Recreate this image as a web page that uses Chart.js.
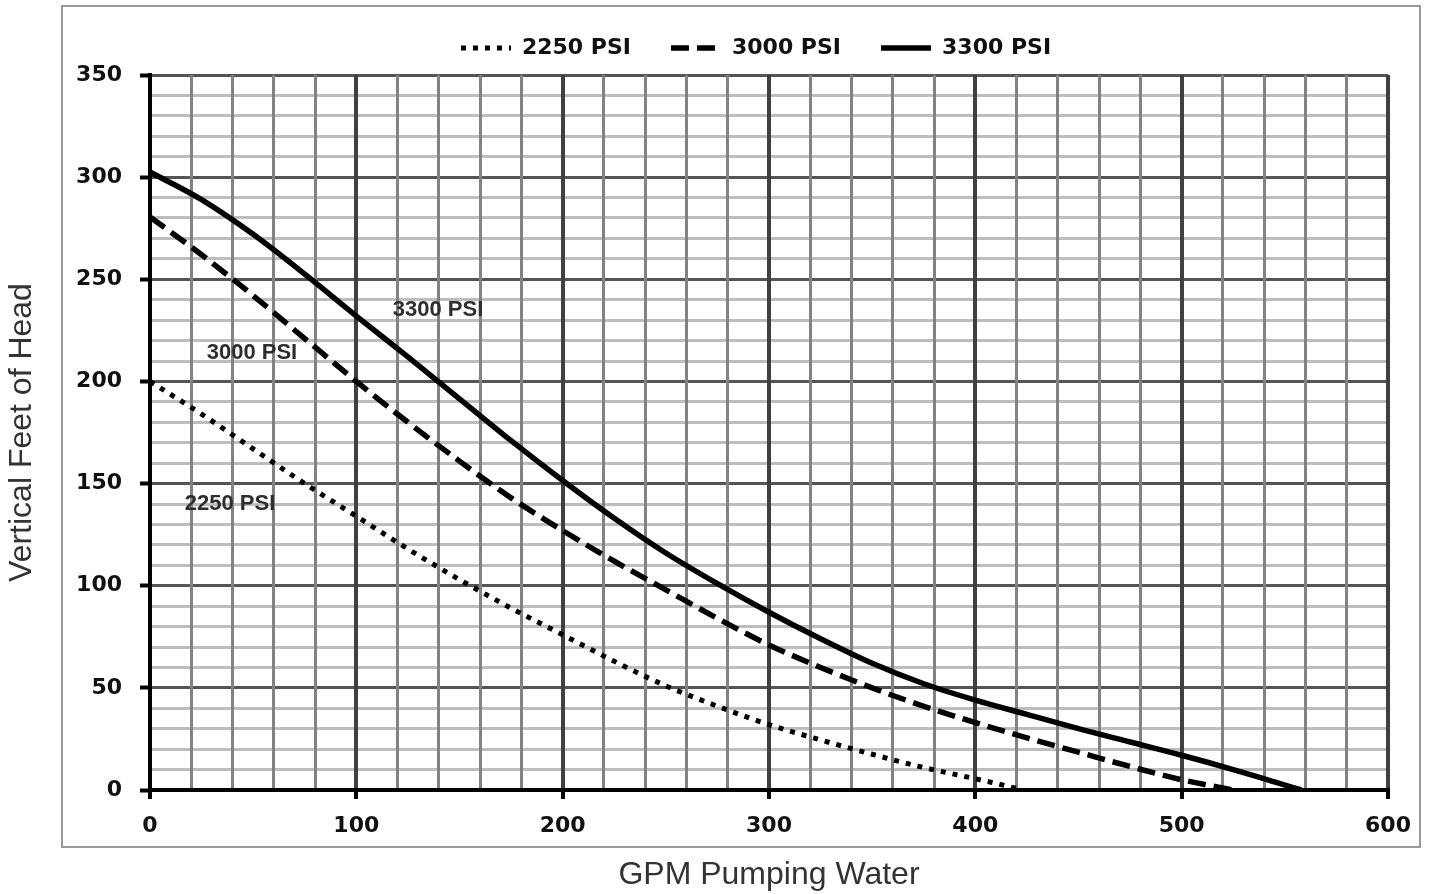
<!DOCTYPE html>
<html>
<head>
<meta charset="utf-8">
<script src="https://cdn.jsdelivr.net/npm/chart.js@4.4.1/dist/chart.umd.min.js"></script>
<style>
  html, body { margin: 0; padding: 0; background: #fff; }
  #wrap { width: 1436px; height: 894px; }
</style>
</head>
<body>
<div id="wrap"><canvas id="myChart" width="1436" height="894"></canvas></div>
<script>
// pump curves
var seriesNames = ['2250 PSI', '3000 PSI', '3300 PSI'];

var gpm2250  = [0, 25, 50, 75, 100, 125, 150, 175, 200, 225, 250, 275, 300, 325, 350, 375, 400, 415, 423];
var head2250 = [200, 184, 167, 150, 134, 118, 103, 89, 76, 63, 51, 41, 32, 24.5, 17.5, 11, 5.5, 2, 0];

var gpm3000  = [0, 25, 50, 75, 100, 125, 150, 175, 200, 225, 250, 275, 300, 325, 350, 375, 400, 425, 450, 475, 500, 515, 525];
var head3000 = [280.5, 262, 242, 221, 200, 180, 161, 143, 127, 112, 98, 84, 71, 60, 50, 41, 33, 25.5, 18.5, 11.5, 5, 2, 0];

var gpm3300  = [0, 25, 50, 75, 100, 125, 150, 175, 200, 225, 250, 275, 300, 325, 350, 375, 400, 425, 450, 475, 500, 525, 545, 558];
var head3300 = [302.5, 289, 272, 252.5, 232, 212, 191.5, 171, 151.5, 133, 116, 101, 87, 74, 62, 52, 44, 37, 30, 23.5, 17, 10, 4, 0];

// in-plot labels: text, gpm, head
var noteText = ['3300 PSI', '3000 PSI', '2250 PSI'];
var noteGpm  = [139.6, 49.4, 38.8];
var noteHead = [235, 214, 140];

function pts(xs, ys) {
  return xs.map(function (x, i) { return {x: x, y: ys[i]}; });
}

var framePlugin = {
  id: 'frame',
  beforeDraw: function (chart) {
    var c = chart.ctx;
    c.save();
    c.fillStyle = '#fff';
    c.fillRect(0, 0, chart.width, chart.height);
    c.strokeStyle = '#9a9a9a';
    c.lineWidth = 2;
    c.strokeRect(62, 6, 1358, 841);
    c.restore();
    // nudge the legend to where the original sits
    if (chart.legend && !chart.legend._moved) {
      chart.legend.left += 62;
      chart.legend.right += 62;
      chart.legend.top -= 6;
      chart.legend._moved = true;
    }
  },
  afterDatasetsDraw: function (chart) {
    var c = chart.ctx, xs = chart.scales.x, ys = chart.scales.y;
    c.save();
    c.font = 'bold 22px "Liberation Sans", Arial, sans-serif';
    c.fillStyle = '#2e2e2e';
    c.textAlign = 'center';
    c.textBaseline = 'middle';
    noteText.forEach(function (t, i) {
      c.fillText(t, xs.getPixelForValue(noteGpm[i]), ys.getPixelForValue(noteHead[i]));
    });
    c.restore();
  }
};

var tickFont = { family: '"DejaVu Sans", Verdana, sans-serif', size: 22, weight: 'bold' };

var ctx = document.getElementById('myChart').getContext('2d');
var myChart = new Chart(ctx, {
  type: 'line',
  data: {
    datasets: [{
        label: seriesNames[0],
        data: pts(gpm2250, head2250),
        borderColor: '#000',
        backgroundColor: '#000',
        borderWidth: 5,
        borderDash: [5, 7]
      }, {
        label: seriesNames[1],
        data: pts(gpm3000, head3000),
        borderColor: '#000',
        backgroundColor: '#000',
        borderWidth: 5.5,
        borderDash: [18, 8]
      }, {
        label: seriesNames[2],
        data: pts(gpm3300, head3300),
        borderColor: '#000',
        backgroundColor: '#000',
        borderWidth: 5.5
      }
    ]
  },
  options: {
    responsive: false,
    animation: false,
    events: [],
    cubicInterpolationMode: 'monotone',
    elements: { point: { radius: 0 } },
    layout: { padding: { left: 0, right: 48, top: 3, bottom: 0 } },
    plugins: {
      tooltip: { enabled: false },
      legend: {
        position: 'top',
        labels: {
          usePointStyle: true,
          pointStyle: 'line',
          pointStyleWidth: 50,
          padding: 40,
          color: '#111',
          font: tickFont,
          generateLabels: function (chart) {
            var items = Chart.defaults.plugins.legend.labels.generateLabels(chart);
            items.forEach(function (it) {
              var ds = chart.data.datasets[it.datasetIndex];
              it.lineDash = ds.borderDash || [];
              it.lineWidth = ds.borderWidth;
              it.strokeStyle = ds.borderColor;
            });
            return items;
          }
        }
      }
    },
    scales: {
      x: {
        type: 'linear',
        min: 0,
        max: 600,
        afterFit: function (s) { s.height = 104; },
        border: { color: '#000', width: 4 },
        grid: {
          z: -1,
          color: function (c) { return c.tick.value === 0 ? '#000' : (c.tick.value % 100 === 0 ? '#404040' : '#828282'); },
          lineWidth: function (c) { return c.tick.value % 100 === 0 ? 4 : 3; },
          tickLength: 9,
          tickColor: function (c) { return c.tick.value % 100 === 0 ? '#000' : 'rgba(0,0,0,0)'; },
          tickWidth: 4
        },
        ticks: {
          stepSize: 20,
          autoSkip: false,
          maxRotation: 0,
          padding: 14,
          color: '#111',
          font: tickFont,
          callback: function (v) { return v % 100 === 0 ? v : ''; }
        },
        title: {
          display: true,
          text: 'GPM Pumping Water',
          color: '#333',
          padding: { top: 0, bottom: 0 },
          font: { family: '"Liberation Sans", Arial, sans-serif', size: 32 }
        }
      },
      y: {
        min: 0,
        max: 350,
        afterFit: function (s) { s.width = 150; },
        border: { color: '#000', width: 4 },
        grid: {
          z: -2,
          color: function (c) { return c.tick.value % 50 === 0 ? '#555' : '#bdbdbd'; },
          lineWidth: 3,
          tickLength: 10,
          tickColor: function (c) { return c.tick.value % 50 === 0 ? '#000' : 'rgba(0,0,0,0)'; },
          tickWidth: 4
        },
        ticks: {
          stepSize: 10,
          autoSkip: false,
          padding: 18,
          color: '#111',
          font: tickFont,
          callback: function (v) { return v % 50 === 0 ? v : ''; }
        },
        title: {
          display: true,
          text: 'Vertical Feet of Head',
          color: '#333',
          padding: { top: 3, bottom: 0 },
          font: { family: '"Liberation Sans", Arial, sans-serif', size: 32 }
        }
      }
    }
  },
  plugins: [framePlugin]
});
</script>
</body>
</html>
